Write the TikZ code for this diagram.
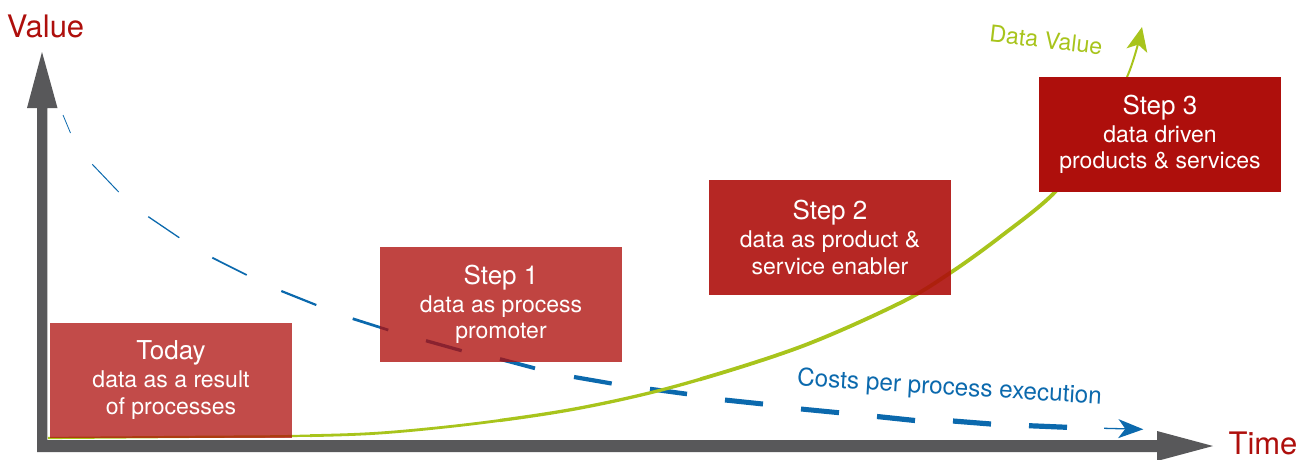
\documentclass[tikz,border=0pt]{standalone}
\usepackage{fontspec}
\setmainfont{TeX Gyre Heros}
\usetikzlibrary{arrows.meta}
\definecolor{axisgray}{HTML}{58585A}
\definecolor{boxred}{HTML}{AE0F0C}
\definecolor{costblue}{HTML}{0B69AD}
\definecolor{valgreen}{HTML}{A8C41C}
\definecolor{axisred}{HTML}{AE0F0C}
\tikzset{
  stepbox/.style={fill=boxred, minimum width=242pt, minimum height=115pt, inner sep=0pt,
    text=white, text opacity=1, align=center, font=\fontsize{23}{26.5}\selectfont},
  axislabel/.style={text=axisred, font=\fontsize{31}{36}\selectfont, inner sep=0pt},
  costdash/.style={costblue, line cap=butt},
  greenline/.style={valgreen, line cap=butt},
}
\newcommand\greencurve{plot[smooth, tension=0.55] coordinates {(48,438) (200,436.8) (292,436) (380,433) (480,423) (580,408) (680,385) (800,347) (900,303) (950,273) (1000,237) (1055,192) (1090,142)}}
\begin{document}
\begin{tikzpicture}[x=1pt,y=-1pt]
\useasboundingbox (0,0) rectangle (1308,459);
% axes
\fill[axisgray] (37,452) -- (37,108) -- (27,108) -- (42,52) -- (57.5,108) -- (47.3,108)
  -- (47.3,440) -- (1157,440) -- (1157,431) -- (1213,446) -- (1157,461) -- (1157,452) -- cycle;
\node[axislabel, anchor=base] (vlabel) at (45.5,37) {Value};
\node[axislabel, anchor=base] (tlabel) at (1263,454) {Time};
% cost dashes
\draw[costdash, line width=0.8pt] (63,115) -- (70.5,133);
\draw[costdash, line width=1.0pt] (92.3,164.3) -- (118.7,192);
\draw[costdash, line width=1.3pt] (148.3,216.7) -- (179.3,237.7);
\draw[costdash, line width=1.7pt] (212.3,257.7) -- (246.7,275);
\draw[costdash, line width=2.2pt] (281.3,291) -- (316.3,305);
\draw[costdash, line width=2.7pt] (352.7,318.7) -- (388.3,330);
\draw[costdash, line width=3.3pt] (426,340.7) -- (461.7,350.7);
\draw[costdash, line width=3.8pt] (500,359) -- (535,368.3);
\draw[costdash, line width=4.2pt] (574,377) -- (611.7,383.5);
\draw[costdash, line width=4.6pt] (650,389) -- (687,394);
\draw[costdash, line width=5pt] (725,400) -- (763,404);
\draw[costdash, line width=5pt] (801,409) -- (839,412.7);
\draw[costdash, line width=5.2pt] (877,416.5) -- (915,420.5);
\draw[costdash, line width=5.2pt] (953,421) -- (991,424);
\draw[costdash, line width=5.2pt] (1029,425.7) -- (1067,427.3);
\draw[costblue, line width=1.3pt, -{Stealth[length=25pt,width=19pt,inset=7pt]}] (1104,428.3) -- (1143.3,429.3);
\node[text=costblue, rotate=-3.4, font=\fontsize{24.3}{28}\selectfont, inner sep=0pt] (costlabel) at (949.5,388.5) {Costs per process execution};
% green value curve (width grows along the curve)
\begin{scope}
  \clip (0,0) rectangle (310,459);
  \draw[greenline, line width=2.2pt] \greencurve;
\end{scope}
\begin{scope}
  \clip (310,0) rectangle (500,459);
  \draw[greenline, line width=2.8pt] \greencurve;
\end{scope}
\begin{scope}
  \clip (500,0) rectangle (700,459);
  \draw[greenline, line width=3.3pt] \greencurve;
\end{scope}
\begin{scope}
  \clip (700,0) rectangle (1308,459);
  \draw[greenline, line width=3.8pt] \greencurve;
\end{scope}
\draw[greenline, line width=2pt, -{Stealth[length=24pt,width=21pt,inset=6pt]}]
  plot[smooth, tension=0.55] coordinates {(1090,142) (1127,77) (1142,27)};
\node[text=valgreen, rotate=-6.5, font=\fontsize{23.2}{27}\selectfont, inner sep=0pt] (vallabel) at (1046,40) {Data Value};
% step boxes
\node[stepbox, fill opacity=0.75] (today) at (171,380) {{\fontsize{26}{28}\selectfont Today}\\[1.5pt]data as a result\\of processes};
\node[stepbox, fill opacity=0.78] (step1) at (501,304.5) {{\fontsize{26}{28}\selectfont Step 1}\\[1.5pt]data as process\\promoter};
\node[stepbox, fill opacity=0.9] (step2) at (830,237.5) {{\fontsize{26}{28}\selectfont Step 2}\\[1.5pt]data as product \&\\service enabler};
\node[stepbox] (step3) at (1160,134.5) {{\fontsize{26}{28}\selectfont Step 3}\\[1.5pt]data driven\\products \& services};
\end{tikzpicture}
\end{document}
